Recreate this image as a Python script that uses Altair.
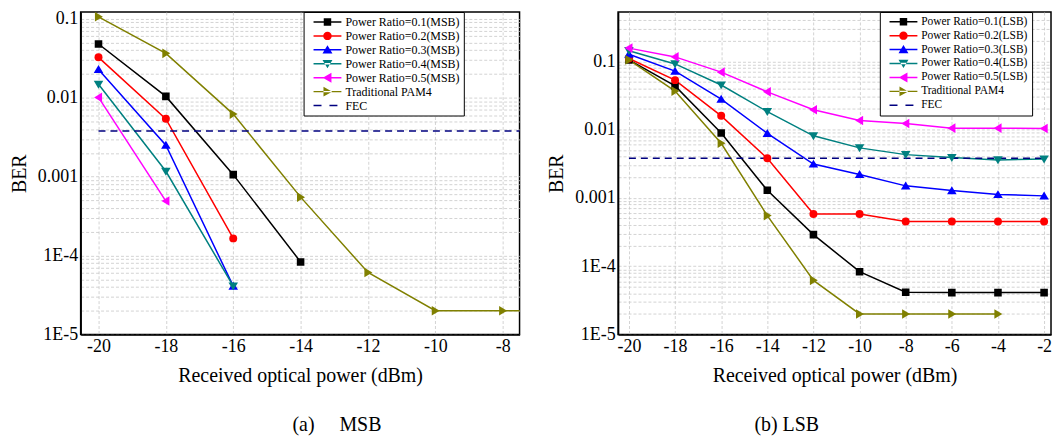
import altair as alt
import pandas as pd

# ---------------- data ----------------
series_msb = ["Power Ratio=0.1(MSB)", "Power Ratio=0.2(MSB)", "Power Ratio=0.3(MSB)",
              "Power Ratio=0.4(MSB)", "Power Ratio=0.5(MSB)", "Traditional PAM4"]
series_lsb = ["Power Ratio=0.1(LSB)", "Power Ratio=0.2(LSB)", "Power Ratio=0.3(LSB)",
              "Power Ratio=0.4(LSB)", "Power Ratio=0.5(LSB)", "Traditional PAM4"]

x_msb_pr01 = [-20, -18, -16, -14]
msb_pr01 = [0.048, 0.0104, 0.00106, 8.3e-5]
x_msb_pr02 = [-20, -18, -16]
msb_pr02 = [0.0325, 0.0054, 1.65e-4]
x_msb_pr03 = [-20, -18, -16]
msb_pr03 = [0.0228, 0.0025, 4.1e-5]
x_msb_pr04 = [-20, -18, -16]
msb_pr04 = [0.0148, 0.00117, 4.1e-5]
x_msb_pr05 = [-20, -18]
msb_pr05 = [0.0101, 4.9e-4]
x_msb_pam4 = [-20, -18, -16, -14, -12, -10, -8, -6]
msb_pam4 = [0.106, 0.0365, 0.0062, 5.5e-4, 6.1e-5, 2.0e-5, 2.0e-5, 2.0e-5]

x_lsb = [-20, -18, -16, -14, -12, -10, -8, -6, -4, -2]
lsb_pr01 = [0.105, 0.0436, 0.0089, 0.00129, 2.9e-4, 8.3e-5, 4.15e-5, 4.1e-5, 4.1e-5, 4.1e-5]
lsb_pr02 = [0.11, 0.053, 0.0159, 0.0038, 5.8e-4, 5.8e-4, 4.5e-4, 4.5e-4, 4.5e-4, 4.5e-4]
lsb_pr03 = [0.127, 0.0717, 0.028, 0.0088, 0.00313, 0.0022, 0.0015, 0.00128, 0.00112, 0.00107]
lsb_pr04 = [0.143, 0.0915, 0.045, 0.0183, 0.0081, 0.0054, 0.0043, 0.0039, 0.0036, 0.0037]
lsb_pr05 = [0.156, 0.116, 0.0694, 0.0357, 0.0195, 0.0136, 0.0123, 0.0105, 0.0105, 0.0104]
x_lsb_pam4 = [-20, -18, -16, -14, -12, -10, -8, -6, -4]
lsb_pam4 = [0.105, 0.0366, 0.0063, 5.5e-4, 6.2e-5, 2.0e-5, 2.0e-5, 2.0e-5, 2.0e-5]

fec_level = 0.0038
fec_x_msb = [-20, -6]
fec_x_lsb = [-20, -2]

colors = ["#000000", "#ff0000", "#0000ff", "#008080", "#ff00ff", "#808000"]
fec_color = "#000080"

# plot marker shapes (square, circle, triangles up/down/left/right)
marker_paths = [
    "M-0.95,-0.95H0.95V0.95H-0.95Z",
    "circle",
    "M0,-1.1L1.2,0.9L-1.2,0.9Z",
    "M0,1.1L1.2,-0.9L-1.2,-0.9Z",
    "M-1.1,0L0.9,-1.2L0.9,1.2Z",
    "M1.1,0L-0.9,-1.2L-0.9,1.2Z",
]

# legend symbols: line segment + marker (custom SVG paths)
LINE = "M-2.8,-0.15H2.8V0.15H-2.8Z"
legend_paths = [
    LINE + "M-0.75,-0.75H0.75V0.75H-0.75Z",
    LINE + "M0.85,0A0.85,0.85 0 1,1 -0.85,0A0.85,0.85 0 1,1 0.85,0Z",
    LINE + "M0,-0.9L1.0,0.75L-1.0,0.75Z",
    LINE + "M0,0.9L1.0,-0.75L-1.0,-0.75Z",
    LINE + "M-0.95,0L0.8,-1.0L0.8,1.0Z",
    LINE + "M0.95,0L-0.8,-1.0L-0.8,1.0Z",
    "M-2.8,-0.15H-1.2V0.15H-2.8ZM0.4,-0.15H2.0V0.15H0.4Z",
]

FONT = "Liberation Serif, Times New Roman, DejaVu Serif, serif"


def long_df(pairs, names):
    rows = []
    for (xs, ys), n in zip(pairs, names):
        for xv, yv in zip(xs, ys):
            rows.append({"x": xv, "ber": yv, "series": n})
    return pd.DataFrame(rows)


def log_grid_values(lo_exp, hi_val):
    vals = []
    for e in range(lo_exp, 0):
        for m in range(1, 10):
            v = float(f"{m}e{e}")
            if v <= hi_val:
                vals.append(v)
    return vals


LABEL_EXPR_Y = ("abs(log(datum.value)/LN10 + 1) < 0.001 ? '0.1' : "
                "abs(log(datum.value)/LN10 + 2) < 0.001 ? '0.01' : "
                "abs(log(datum.value)/LN10 + 3) < 0.001 ? '0.001' : "
                "abs(log(datum.value)/LN10 + 4) < 0.001 ? '1E-4' : "
                "abs(log(datum.value)/LN10 + 5) < 0.001 ? '1E-5' : ''")


def panel(df, fec_x, names, xdom, ydom, ygrid_top, xgrid, leg_x, leg_y, leg_font, row_pad, title, title_dx, width):
    x_enc = alt.X("x:Q", scale=alt.Scale(domain=xdom, nice=False, zero=False),
                  axis=alt.Axis(values=xgrid, labelExpr="datum.value % 2 == 0 ? '' + datum.value : ''",
                                title="Received optical power (dBm)", ticks=False, labelPadding=3,
                                titlePadding=10, labelOverlap=False))
    y_enc = alt.Y("ber:Q", scale=alt.Scale(type="log", domain=ydom, nice=False),
                  axis=alt.Axis(values=log_grid_values(-5, ygrid_top), labelExpr=LABEL_EXPR_Y,
                                title="BER", ticks=False, labelPadding=3, titlePadding=8,
                                labelOverlap=False))
    cscale = alt.Scale(domain=names, range=colors)
    lines = alt.Chart(df).mark_line(strokeWidth=1.5, clip=True).encode(
        x=x_enc, y=y_enc,
        color=alt.Color("series:N", scale=cscale, legend=None),
        order=alt.Order("x:Q"),
    )
    points = alt.Chart(df).mark_point(filled=True, size=64, opacity=1, clip=True).encode(
        x="x:Q", y="ber:Q",
        color=alt.Color("series:N", scale=cscale, legend=None),
        shape=alt.Shape("series:N", scale=alt.Scale(domain=names, range=marker_paths), legend=None),
    )
    fec_df = pd.DataFrame({"x": fec_x, "ber": [fec_level] * len(fec_x)})
    fec = alt.Chart(fec_df).mark_line(color=fec_color, strokeWidth=1.5, strokeDash=[7, 5], clip=True).encode(
        x="x:Q", y="ber:Q")
    leg_names = names + ["FEC"]
    legend = alt.Legend(title=None, orient="none", legendX=leg_x, legendY=leg_y,
                        strokeColor="black", fillColor="white", padding=4,
                        labelFont=FONT, labelFontSize=leg_font, labelColor="black",
                        symbolSize=100, symbolOffset=14, labelOffset=12, rowPadding=row_pad,
                        symbolStrokeWidth=0, labelLimit=300)
    leg = alt.Chart(df).mark_point(filled=True, opacity=1).encode(
        x="x:Q", y="ber:Q",
        color=alt.Color("legname:N", scale=alt.Scale(domain=leg_names, range=colors + [fec_color]), legend=legend),
        shape=alt.Shape("legname:N", scale=alt.Scale(domain=leg_names, range=legend_paths), legend=legend),
    ).transform_calculate(legname="datum.series").transform_filter("false")
    return alt.layer(lines, fec, points, leg).resolve_scale(
        color="independent", shape="independent").resolve_legend(color="independent", shape="independent").properties(
        width=width, height=324,
        title=alt.TitleParams(text=title, orient="bottom", font=FONT, fontSize=20, fontWeight="normal",
                              color="black", offset=30, dx=title_dx, anchor="middle"))


df_msb = long_df([(x_msb_pr01, msb_pr01), (x_msb_pr02, msb_pr02), (x_msb_pr03, msb_pr03),
                  (x_msb_pr04, msb_pr04), (x_msb_pr05, msb_pr05), (x_msb_pam4, msb_pam4)], series_msb)
df_lsb = long_df([(x_lsb, lsb_pr01), (x_lsb, lsb_pr02), (x_lsb, lsb_pr03),
                  (x_lsb, lsb_pr04), (x_lsb, lsb_pr05), (x_lsb_pam4, lsb_pam4)], series_lsb)

left = panel(df_msb, fec_x_msb, series_msb, [-20.53, -7.5], [1e-5, 0.122], 0.122,
             list(range(-20, -7)), 224, 0, 12, 2, "(a)\u00a0\u00a0\u00a0\u00a0\u00a0MSB", 37, 441)
right = panel(df_lsb, fec_x_lsb, series_lsb, [-20.47, -1.7], [1e-5, 0.527], 0.41,
              list(range(-20, -1)), 263, 0, 11.5, 1, "(b) LSB", -48, 435)

chart = alt.hconcat(left, right, spacing=25).configure(
    padding=0, background="white",
).configure_view(
    stroke="black", strokeWidth=1.5
).configure_axis(
    labelFont=FONT, labelFontSize=18, labelColor="black",
    titleFont=FONT, titleFontSize=20, titleFontWeight="normal", titleColor="black",
    domainColor="black", domainWidth=1.5,
    gridColor="#c8c8c8", gridDash=[3, 2], gridWidth=0.8,
)

chart.save("out.html", embed_options={"renderer": "svg", "actions": False})
